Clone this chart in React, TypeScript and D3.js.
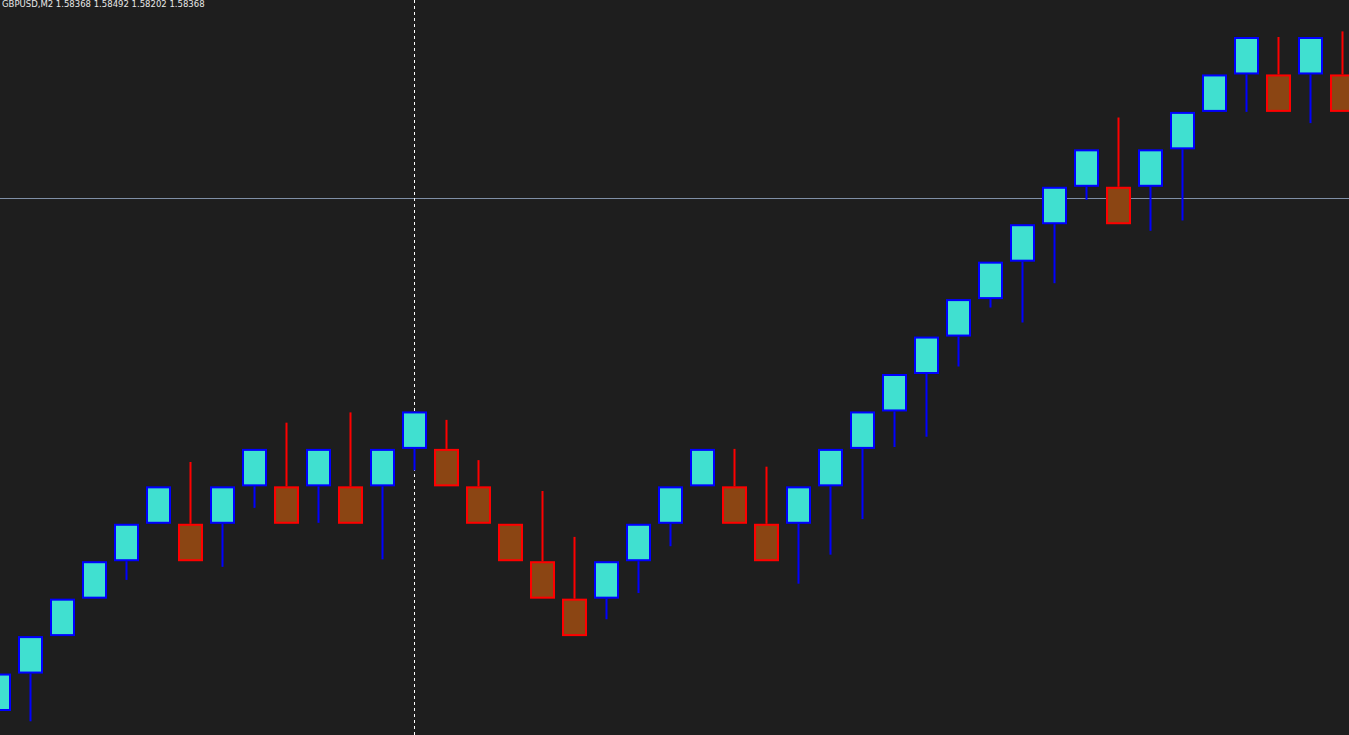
import React from "react";
import * as d3 from "d3";

const W = 1349;
const H = 735;

const symbolLabel = "GBPUSD,M2  1.58368 1.58492 1.58202 1.58368";

// Renko-style bricks: open, close, high, low
const opens = [
  1.5770, 1.5774, 1.5778, 1.5782, 1.5786, 1.5790, 1.5790, 1.5790, 1.5794, 1.5794,
  1.5794, 1.5794, 1.5794, 1.5798, 1.5798, 1.5794, 1.5790, 1.5786, 1.5782, 1.5782,
  1.5786, 1.5790, 1.5794, 1.5794, 1.5790, 1.5790, 1.5794, 1.5798, 1.5802, 1.5806,
  1.5810, 1.5814, 1.5818, 1.5822, 1.5826, 1.5826, 1.5826, 1.5830, 1.5834, 1.5838,
  1.5838, 1.5838, 1.5838,
];
const closes = [
  1.5774, 1.5778, 1.5782, 1.5786, 1.5790, 1.5794, 1.5786, 1.5794, 1.5798, 1.5790,
  1.5798, 1.5790, 1.5798, 1.5802, 1.5794, 1.5790, 1.5786, 1.5782, 1.5778, 1.5786,
  1.5790, 1.5794, 1.5798, 1.5790, 1.5786, 1.5794, 1.5798, 1.5802, 1.5806, 1.5810,
  1.5814, 1.5818, 1.5822, 1.5826, 1.5830, 1.5822, 1.5830, 1.5834, 1.5838, 1.5842,
  1.5834, 1.5842, 1.5834,
];
const highs = [
  1.5774, 1.5778, 1.5782, 1.5786, 1.5790, 1.5794, 1.57966, 1.5794, 1.5798, 1.58008,
  1.5798, 1.58019, 1.5798, 1.5802, 1.58011, 1.57968, 1.5790, 1.57935, 1.57886, 1.5786,
  1.5790, 1.5794, 1.5798, 1.57980, 1.57961, 1.5794, 1.5798, 1.5802, 1.5806, 1.5810,
  1.5814, 1.5818, 1.5822, 1.5826, 1.5830, 1.58334, 1.5830, 1.5834, 1.5838, 1.5842,
  1.58420, 1.5842, 1.58426,
];
const lows = [
  1.5770, 1.57689, 1.5778, 1.5782, 1.57840, 1.5790, 1.5786, 1.57854, 1.57917, 1.5790,
  1.57901, 1.5790, 1.57862, 1.57957, 1.5794, 1.5790, 1.5786, 1.5782, 1.5778, 1.57798,
  1.57826, 1.57876, 1.5794, 1.5790, 1.5786, 1.57836, 1.57867, 1.57905, 1.57982, 1.57993,
  1.58068, 1.58131, 1.58115, 1.58157, 1.58246, 1.5822, 1.58213, 1.58224, 1.5834, 1.58340,
  1.5834, 1.58328, 1.5834,
];

const priceLine = 1.58248;
const cursorIndex = 13;

export default function App() {
  const x = d3
    .scaleLinear()
    .domain([0, 1])
    .range([-1.5, 30.5]);
  const y = d3.scaleLinear().domain([1.577, 1.5842]).range([711, 37]);
  const bodyW = 23;

  return (
    <svg
      width={W}
      height={H}
      style={{ position: "absolute", left: 0, top: 0, display: "block" }}
    >
      <rect x={0} y={0} width={W} height={H} fill="#1e1e1e" />
      <line
        x1={0}
        x2={W}
        y1={Math.round(y(priceLine)) + 0.5}
        y2={Math.round(y(priceLine)) + 0.5}
        stroke="#7f8fa6"
        strokeWidth={1}
      />
      <line
        x1={x(cursorIndex)}
        x2={x(cursorIndex)}
        y1={0}
        y2={H}
        stroke="#ffffff"
        strokeWidth={1}
        strokeDasharray="3,3"
      />
      {opens.map((o, i) => {
        const c = closes[i];
        const up = c >= o;
        const cx = x(i);
        const top = y(Math.max(o, c));
        const bot = y(Math.min(o, c));
        const hi = y(highs[i]);
        const lo = y(lows[i]);
        const wickColor = up ? "#0000ff" : "#ff0000";
        return (
          <g key={i}>
            {hi < top - 0.5 && (
              <line x1={cx} x2={cx} y1={hi} y2={top} stroke={wickColor} strokeWidth={2} />
            )}
            {lo > bot + 0.5 && (
              <line x1={cx} x2={cx} y1={bot} y2={lo} stroke={wickColor} strokeWidth={2} />
            )}
            <rect
              x={cx - bodyW / 2}
              y={top + 1}
              width={bodyW}
              height={bot - top - 2}
              fill={up ? "#40e0d0" : "#8b4513"}
              stroke={wickColor}
              strokeWidth={2}
            />
          </g>
        );
      })}
      <text
        x={2}
        y={7}
        fill="#e8e8e8"
        fontFamily="'DejaVu Sans', sans-serif"
        fontSize={8.5}
      >
        {symbolLabel}
      </text>
    </svg>
  );
}
